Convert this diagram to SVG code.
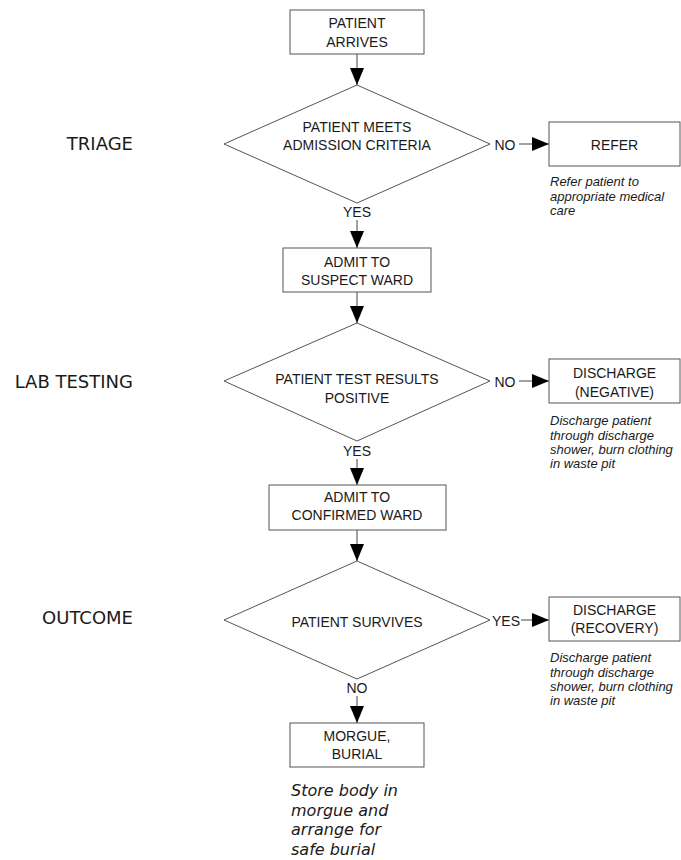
<svg xmlns="http://www.w3.org/2000/svg" width="681" height="860" viewBox="0 0 681 860">
<defs>
<marker id="ah" markerUnits="userSpaceOnUse" markerWidth="17" markerHeight="14" refX="17" refY="7" orient="auto">
<path d="M0,0 L17,7 L0,14 z" fill="#000"/>
</marker>
<style>
.box{fill:#fff;stroke:#555;stroke-width:1}
.dia{fill:#fff;stroke:#555;stroke-width:1}
.lbl{font-family:"Liberation Sans",Arial,sans-serif;font-size:14px;fill:#1a1a1a;text-anchor:middle}
.note{font-family:"Liberation Sans",Arial,sans-serif;font-size:13px;font-style:italic;fill:#1a1a1a}
.note2{font-family:"DejaVu Sans",sans-serif;font-size:16px;font-style:italic;fill:#1a1a1a}
.stage{font-family:"DejaVu Sans",sans-serif;font-size:18px;fill:#1a1a1a;text-anchor:end}
.con{stroke:#444;stroke-width:1;fill:none}
</style>
</defs>
<rect width="681" height="860" fill="#fff"/>

<g id="stages">
<text class="stage" x="133" y="150">TRIAGE</text>
<text class="stage" x="133" y="388">LAB TESTING</text>
<text class="stage" x="133" y="624">OUTCOME</text>
</g>

<g id="connectors">
<line class="con" x1="357" y1="54" x2="357" y2="85" marker-end="url(#ah)"/>
<text class="lbl" x="505" y="150">NO</text>
<line class="con" x1="519" y1="144" x2="549" y2="144" marker-end="url(#ah)"/>
<text class="lbl" x="357" y="217">YES</text>
<line class="con" x1="357" y1="220" x2="357" y2="248" marker-end="url(#ah)"/>
<line class="con" x1="357" y1="292" x2="357" y2="323" marker-end="url(#ah)"/>
<text class="lbl" x="505" y="387">NO</text>
<line class="con" x1="519" y1="381" x2="549" y2="381" marker-end="url(#ah)"/>
<text class="lbl" x="357" y="456">YES</text>
<line class="con" x1="357" y1="459" x2="357" y2="485" marker-end="url(#ah)"/>
<line class="con" x1="357" y1="530" x2="357" y2="561" marker-end="url(#ah)"/>
<text class="lbl" x="506" y="626">YES</text>
<line class="con" x1="521" y1="620" x2="549" y2="620" marker-end="url(#ah)"/>
<text class="lbl" x="357" y="693">NO</text>
<line class="con" x1="357" y1="696" x2="357" y2="723" marker-end="url(#ah)"/>
</g>

<g id="patient-arrives">
<rect class="box" x="290" y="10" width="134" height="44"/>
<text class="lbl" x="357" y="28">PATIENT</text>
<text class="lbl" x="357" y="47">ARRIVES</text>
</g>

<g id="admission-criteria">
<polygon class="dia" points="357,85 490,144 357,203 224,144"/>
<text class="lbl" x="357" y="132">PATIENT MEETS</text>
<text class="lbl" x="357" y="150">ADMISSION CRITERIA</text>
</g>

<g id="refer">
<rect class="box" x="549" y="122" width="131" height="44"/>
<text class="lbl" x="614.5" y="150">REFER</text>
<text class="note" x="550" y="186">Refer patient to</text>
<text class="note" x="550" y="200.5">appropriate medical</text>
<text class="note" x="550" y="215">care</text>
</g>

<g id="suspect-ward">
<rect class="box" x="283" y="248" width="148" height="44"/>
<text class="lbl" x="357" y="267">ADMIT TO</text>
<text class="lbl" x="357" y="285">SUSPECT WARD</text>
</g>

<g id="test-results">
<polygon class="dia" points="357,323 490,381 357,441 224,381"/>
<text class="lbl" x="357" y="384">PATIENT TEST RESULTS</text>
<text class="lbl" x="357" y="403">POSITIVE</text>
</g>

<g id="discharge-negative">
<rect class="box" x="549" y="359" width="131" height="44"/>
<text class="lbl" x="614.5" y="378">DISCHARGE</text>
<text class="lbl" x="614.5" y="397">(NEGATIVE)</text>
<text class="note" x="550" y="425">Discharge patient</text>
<text class="note" x="550" y="439.5">through discharge</text>
<text class="note" x="550" y="454">shower, burn clothing</text>
<text class="note" x="550" y="468">in waste pit</text>
</g>

<g id="confirmed-ward">
<rect class="box" x="269" y="485" width="177" height="45"/>
<text class="lbl" x="357" y="502">ADMIT TO</text>
<text class="lbl" x="357" y="520">CONFIRMED WARD</text>
</g>

<g id="survives">
<polygon class="dia" points="357,561 490,620 357,679 224,620"/>
<text class="lbl" x="357" y="627">PATIENT SURVIVES</text>
</g>

<g id="discharge-recovery">
<rect class="box" x="549" y="597" width="131" height="44"/>
<text class="lbl" x="614.5" y="615">DISCHARGE</text>
<text class="lbl" x="614.5" y="633">(RECOVERY)</text>
<text class="note" x="550" y="662">Discharge patient</text>
<text class="note" x="550" y="676.5">through discharge</text>
<text class="note" x="550" y="691">shower, burn clothing</text>
<text class="note" x="550" y="705">in waste pit</text>
</g>

<g id="morgue">
<rect class="box" x="290" y="723" width="134" height="44"/>
<text class="lbl" x="357" y="741">MORGUE,</text>
<text class="lbl" x="357" y="759">BURIAL</text>
<text class="note2" x="291" y="796">Store body in</text>
<text class="note2" x="291" y="816">morgue and</text>
<text class="note2" x="291" y="835">arrange for</text>
<text class="note2" x="291" y="855">safe burial</text>
</g>
</svg>
